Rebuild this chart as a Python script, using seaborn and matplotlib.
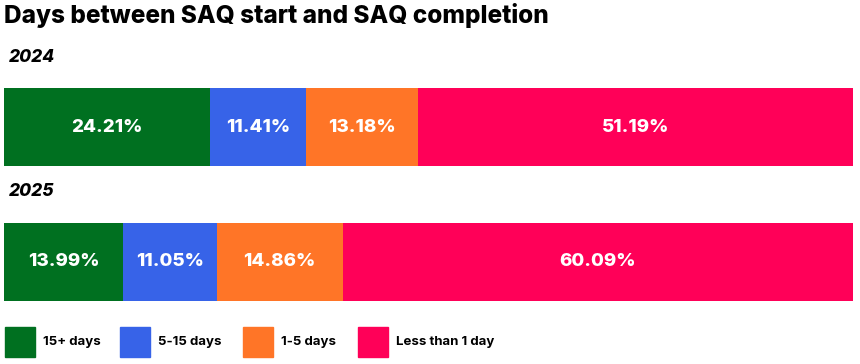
import pandas as pd
import matplotlib.pyplot as plt
import seaborn as sns
from matplotlib.patches import Rectangle

# Data
years = ["2024", "2025"]
categories = ["15+ days", "5-15 days", "1-5 days", "Less than 1 day"]
share_2024 = [24.21, 11.41, 13.18, 51.19]
share_2025 = [13.99, 11.05, 14.86, 60.09]
colors = ["#007020", "#3763E8", "#FF7527", "#FF0058"]

FONT = "Inter"

sns.set_theme(style="white")
plt.rcParams["font.family"] = [FONT, "DejaVu Sans"]

df = pd.DataFrame({"year": years})
for cat, a, b in zip(categories, share_2024, share_2025):
    df[cat] = [a, b]
cum = df[categories].cumsum(axis=1)

W, H = 860, 364
fig = plt.figure(figsize=(W / 100, H / 100), dpi=100)
# axes spanning bar region (pixel layout)
ax = fig.add_axes([4 / W, 1 - 310 / H, 849 / W, 230 / H])

# draw stacked bars by overplotting cumulative totals, widest first
for cat, col in reversed(list(zip(categories, colors))):
    sns.barplot(x=cum[cat], y=df["year"], orient="h", color=col,
                width=0.585, saturation=1, ax=ax, linewidth=0)

ax.set_xlim(0, cum[categories[-1]].max())
ax.set_ylim(1 + 48 / 135, -47 / 135)
ax.axis("off")

# value labels
for i in range(len(years)):
    for cat in categories:
        v = df.loc[i, cat]
        x = cum.loc[i, cat] - v / 2
        ax.text(x, i, f"{v:.2f}%", ha="center", va="center", color="white",
                fontsize=13.5, fontweight="heavy")

# year headings
for i, yr in enumerate(years):
    ypx = 57 + i * 135
    fig.text(9 / W, 1 - ypx / H, yr, ha="left", va="center", fontsize=12.5,
             fontweight="heavy", fontstyle="italic", color="black")

fig.text(4 / W, 1 - 16 / H, "Days between SAQ start and SAQ completion",
         ha="left", va="center", fontsize=17.5, fontweight="heavy", color="black")

# legend
leg_x = [5, 120, 243, 358]
for x0, cat, col in zip(leg_x, categories, colors):
    fig.patches.append(Rectangle((x0 / W, 1 - 357 / H), 30 / W, 30 / H,
                                 transform=fig.transFigure, color=col))
    fig.text((x0 + 38) / W, 1 - 342 / H, cat, ha="left", va="center",
             fontsize=9.5, fontweight="bold", color="black")

fig.savefig("out.png", dpi=100)
